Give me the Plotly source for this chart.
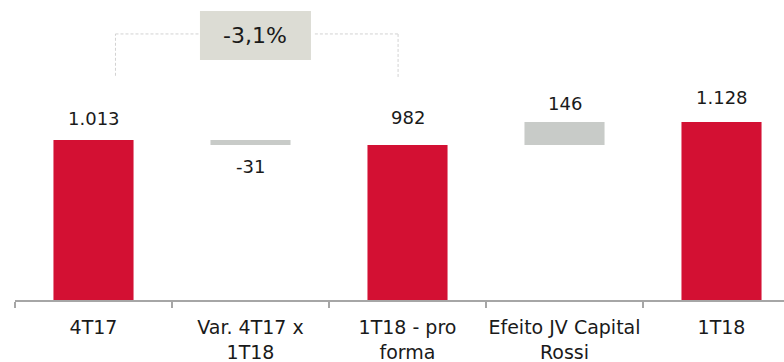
import plotly.graph_objects as go

# Bridge: 4T17 -> 1T18
categories = ["4T17", "Var. 4T17 x<br>1T18", "1T18 - pro<br>forma",
              "Efeito JV Capital<br>Rossi", "1T18"]
values = [1013, -31, 982, 146, 1128]
measures = ["absolute", "relative", "total", "relative", "total"]
label_texts = ["1.013", "-31", "982", "146", "1.128"]
change_label = "-3,1%"

RED = "#d31033"
GREY = "#c8cbc8"
BOX = "#dcdcd4"
FONT = "DejaVu Sans"

fig = go.Figure(go.Waterfall(
    x=categories,
    y=values,
    measure=measures,
    width=0.51,
    connector=dict(visible=False),
    totals=dict(marker=dict(color=RED)),
    increasing=dict(marker=dict(color=GREY)),
    decreasing=dict(marker=dict(color=GREY)),
    textposition="none",
    hoverinfo="skip",
))

# value labels, placed off each bar's end
level = 0
ends = []
for v, m in zip(values, measures):
    if m == "relative":
        start, level = level, level + v
    else:
        start, level = 0, v
    ends.append((start, level))

label_shift = [22, -22, 27, 18, 24]
for cat, txt, (s, e), dy in zip(categories, label_texts, ends, label_shift):
    anchor = max(s, e) if dy > 0 else min(s, e)
    fig.add_annotation(x=cat, y=anchor, text=txt, showarrow=False,
                       yanchor="middle", yshift=dy,
                       font=dict(family=FONT, size=18, color="#1a1a1a"))

# bracket comparing 4T17 with 1T18 pro forma
dash = dict(color="#d2d2d2", width=1, dash="3px,2px")
fig.add_shape(type="line", x0=0.14, x1=0.14, y0=1420, y1=1685, line=dash)
fig.add_shape(type="line", x0=0.14, x1=0.67, y0=1685, y1=1685, line=dash)
fig.add_shape(type="line", x0=1.41, x1=1.94, y0=1685, y1=1685, line=dash)
fig.add_shape(type="line", x0=1.94, x1=1.94, y0=1685, y1=1410, line=dash)
fig.add_shape(type="rect", x0=0.678, x1=1.385, y0=1520, y1=1830,
              fillcolor=BOX, line=dict(width=0), layer="above")
fig.add_annotation(x=1.03, y=1675, text=change_label, showarrow=False,
                   font=dict(family=FONT, size=22, color="#1a1a1a"))

fig.update_layout(
    width=784, height=362,
    margin=dict(l=15, r=0, t=0, b=62),
    paper_bgcolor="white", plot_bgcolor="white",
    showlegend=False,
    font=dict(family=FONT, size=19, color="#1a1a1a"),
    xaxis=dict(
        type="category",
        range=[-0.5, -0.5 + 769 / 157],
        showline=True, linecolor="#a6a6a6", linewidth=2,
        ticks="outside", ticklen=6, tickcolor="#a6a6a6", tickwidth=2,
        tickson="boundaries", showgrid=False, zeroline=False,
        automargin=False, ticklabelstandoff=9, tickangle=0,
        tickfont=dict(family=FONT, size=19, color="#1a1a1a"),
    ),
    yaxis=dict(range=[0, 1900], visible=False, showgrid=False,
               zeroline=False, automargin=False),
)

fig.write_html("out.html")
